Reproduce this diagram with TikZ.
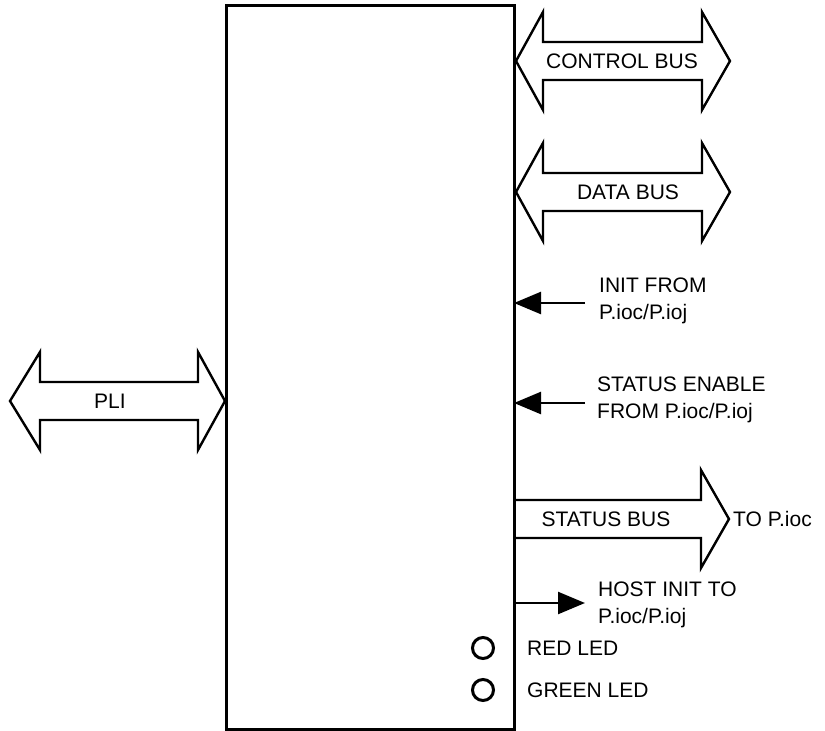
\documentclass[tikz,border=0pt]{standalone}
\usepackage{fontspec}
\setmainfont{Liberation Sans}
\usetikzlibrary{arrows.meta}
\newcommand\dblbus[5]{\draw[bus] (#2,#1) -- (#3,#1-49) -- (#3,#1-19) -- (#4,#1-19) -- (#4,#1-49) -- (#5,#1) -- (#4,#1+49) -- (#4,#1+19) -- (#3,#1+19) -- (#3,#1+49) -- cycle;}
\begin{document}
\begin{tikzpicture}[x=1pt,y=-1pt,
  lbl/.style={font=\fontsize{21}{27}\selectfont, inner sep=0pt, align=left},
  bus/.style={draw, line width=2.4pt, line join=miter},
  sig/.style={line width=2.4pt, -{Triangle[length=27pt,width=22pt]}},
  led/.style={circle, draw, line width=3pt, minimum size=21pt, inner sep=0pt}]
\useasboundingbox (0,0) rectangle (825,731);
\node[draw, line width=3pt, minimum width=288pt, minimum height=724pt, outer sep=0pt, inner sep=0pt] (box) at (370,367) {};
% buses
\dblbus{61}{516}{543}{702}{730}
\node[lbl] (ctrl) at (622,61) {CONTROL BUS};
\dblbus{192}{516}{543}{702}{730}
\node[lbl] (data) at (628,192) {DATA BUS};
\dblbus{401}{10}{40}{198}{225}
\node[lbl] (pli) at (110,401) {PLI};
\draw[bus] (514,500) -- (701,500) -- (701,470) -- (729,519) -- (701,568) -- (701,538) -- (514,538);
\node[lbl] (stbus) at (606,519) {STATUS BUS};
\node[lbl, anchor=west] (top) at (733,519) {TO P.ioc};
% signals
\coordinate (initsrc) at (585,303);
\draw[sig] (initsrc) -- (initsrc -| box.east);
\node[lbl, anchor=west] (initlbl) at (599,301) {INIT FROM\\P.ioc/P.ioj};
\coordinate (stensrc) at (585,403);
\draw[sig] (stensrc) -- (stensrc -| box.east);
\node[lbl, anchor=west] (stenlbl) at (597,400) {STATUS ENABLE\\FROM P.ioc/P.ioj};
\coordinate (hostdst) at (585,603);
\draw[sig] (hostdst -| box.east) -- (hostdst);
\node[lbl, anchor=west] (hostlbl) at (598,605) {HOST INIT TO\\P.ioc/P.ioj};
% LEDs
\node[led] (redled) at (483,648) {};
\node[lbl, anchor=west] (redlbl) at (527,648) {RED LED};
\node[led] (grnled) at (483,690) {};
\node[lbl, anchor=west] (grnlbl) at (527,690) {GREEN LED};
\end{tikzpicture}
\end{document}
